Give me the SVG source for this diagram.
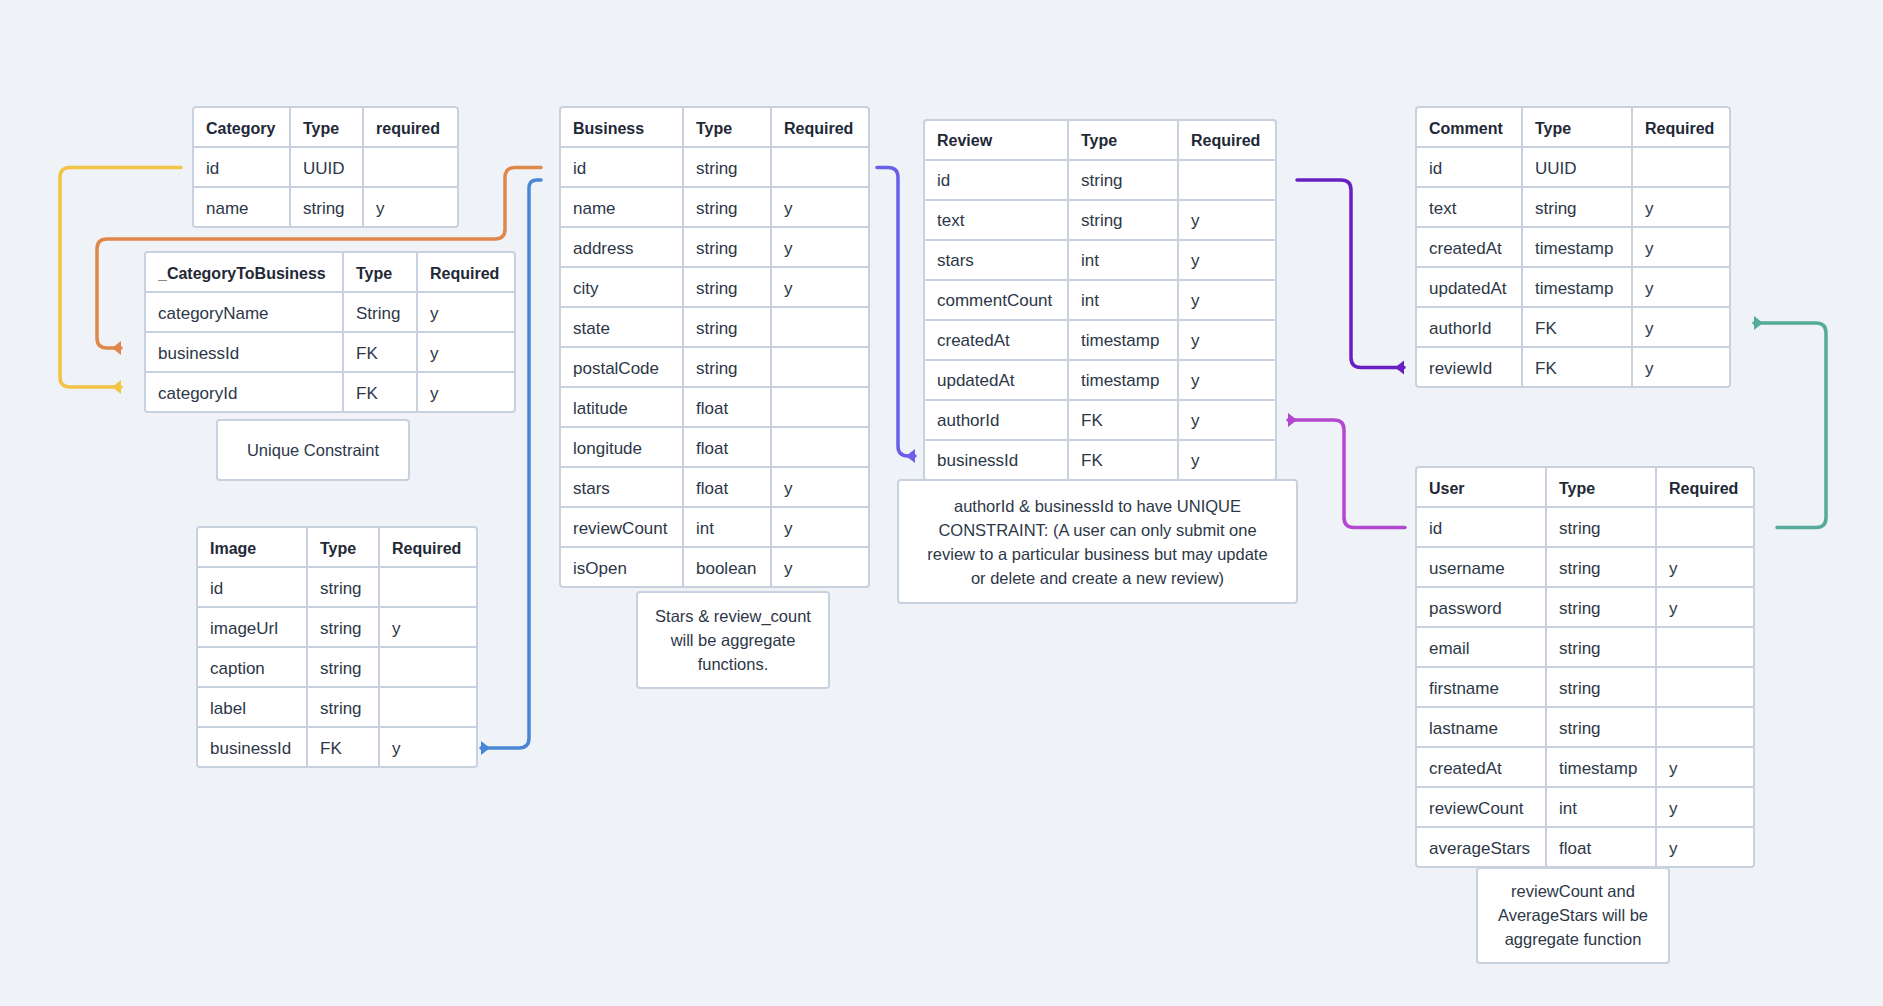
<svg xmlns="http://www.w3.org/2000/svg" width="1883" height="1006" viewBox="0 0 1883 1006">
<style>
.box{fill:#ffffff;stroke:#c8d1de;stroke-width:2}
.grid{fill:none;stroke:#c8d1de;stroke-width:2}
.h{font-family:"Liberation Sans",Arial,sans-serif;font-size:16px;font-weight:bold;fill:#1f2937}
.t{font-family:"Liberation Sans",Arial,sans-serif;font-size:17px;fill:#2d3748}
.n{font-family:"Liberation Sans",Arial,sans-serif;font-size:16.5px;fill:#2d3748;text-anchor:middle}
.c{fill:none;stroke-width:3.5;stroke-linecap:round;stroke-linejoin:round}
</style>
<defs>
<marker id="mY" markerUnits="userSpaceOnUse" markerWidth="24" markerHeight="24" viewBox="-12 -12 24 24" refX="0" refY="0" orient="auto"><path d="M0,-7 L0,7 L-9,0 Z" fill="#f1c446"/></marker>
<marker id="mO" markerUnits="userSpaceOnUse" markerWidth="24" markerHeight="24" viewBox="-12 -12 24 24" refX="0" refY="0" orient="auto"><path d="M0,-7 L0,7 L-9,0 Z" fill="#e0874b"/></marker>
<marker id="mB" markerUnits="userSpaceOnUse" markerWidth="24" markerHeight="24" viewBox="-12 -12 24 24" refX="0" refY="0" orient="auto"><path d="M0,-7 L0,7 L-9,0 Z" fill="#4a86d6"/></marker>
<marker id="mI" markerUnits="userSpaceOnUse" markerWidth="24" markerHeight="24" viewBox="-12 -12 24 24" refX="0" refY="0" orient="auto"><path d="M0,-7 L0,7 L-9,0 Z" fill="#6a5fe8"/></marker>
<marker id="mP" markerUnits="userSpaceOnUse" markerWidth="24" markerHeight="24" viewBox="-12 -12 24 24" refX="0" refY="0" orient="auto"><path d="M0,-7 L0,7 L-9,0 Z" fill="#6a1fc2"/></marker>
<marker id="mM" markerUnits="userSpaceOnUse" markerWidth="24" markerHeight="24" viewBox="-12 -12 24 24" refX="0" refY="0" orient="auto"><path d="M0,-7 L0,7 L-9,0 Z" fill="#b447cf"/></marker>
<marker id="mT" markerUnits="userSpaceOnUse" markerWidth="24" markerHeight="24" viewBox="-12 -12 24 24" refX="0" refY="0" orient="auto"><path d="M0,-7 L0,7 L-9,0 Z" fill="#55ab9a"/></marker>
</defs>
<rect x="0" y="0" width="1883" height="1006" fill="#eff3f7"/>

<g id="connectors">
<path class="c" stroke="#f1c446" marker-end="url(#mY)" d="M181,167.5 H70 Q60,167.5 60,177.5 V377 Q60,387 70,387 H121"/>
<path class="c" stroke="#e0874b" marker-end="url(#mO)" d="M541,167.5 H515 Q505,167.5 505,177.5 V229 Q505,239 495,239 H107 Q97,239 97,249 V338 Q97,348 107,348 H121"/>
<path class="c" stroke="#4a86d6" marker-end="url(#mB)" d="M541,180 H537 Q529,180 529,188 V738 Q529,748 519,748 H481"/>
<path class="c" stroke="#6a5fe8" marker-end="url(#mI)" d="M877,167.5 H888 Q898,167.5 898,177.5 V446 Q898,456 908,456 H915"/>
<path class="c" stroke="#6a1fc2" marker-end="url(#mP)" d="M1297,180 H1341 Q1351,180 1351,190 V357.5 Q1351,367.5 1361,367.5 H1404"/>
<path class="c" stroke="#b447cf" marker-end="url(#mM)" d="M1405,527.5 H1354 Q1344,527.5 1344,517.5 V430 Q1344,420 1334,420 H1288"/>
<path class="c" stroke="#55ab9a" marker-end="url(#mT)" d="M1777,527.5 H1816 Q1826,527.5 1826,517.5 V333 Q1826,323 1816,323 H1754"/>
</g>

<g id="category">
<rect class="box" x="193" y="107" width="265" height="120" rx="3"/>
<path class="grid" d="M290,107 V227 M363,107 V227 M193,147 H458 M193,187 H458"/>
<text class="h" x="206" y="134">Category</text><text class="h" x="303" y="134">Type</text><text class="h" x="376" y="134">required</text>
<text class="t" x="206" y="174">id</text><text class="t" x="303" y="174">UUID</text>
<text class="t" x="206" y="214">name</text><text class="t" x="303" y="214">string</text><text class="t" x="376" y="214">y</text>
</g>

<g id="category-to-business">
<rect class="box" x="145" y="252" width="370" height="160" rx="3"/>
<path class="grid" d="M343,252 V412 M417,252 V412 M145,292 H515 M145,332 H515 M145,372 H515"/>
<text class="h" x="158" y="279">_CategoryToBusiness</text><text class="h" x="356" y="279">Type</text><text class="h" x="430" y="279">Required</text>
<text class="t" x="158" y="319">categoryName</text><text class="t" x="356" y="319">String</text><text class="t" x="430" y="319">y</text>
<text class="t" x="158" y="359">businessId</text><text class="t" x="356" y="359">FK</text><text class="t" x="430" y="359">y</text>
<text class="t" x="158" y="399">categoryId</text><text class="t" x="356" y="399">FK</text><text class="t" x="430" y="399">y</text>
</g>

<g id="note-unique">
<rect class="box" x="217" y="420" width="192" height="60" rx="3"/>
<text class="n" x="313" y="456">Unique Constraint</text>
</g>

<g id="image">
<rect class="box" x="197" y="527" width="280" height="240" rx="3"/>
<path class="grid" d="M307,527 V767 M379,527 V767 M197,567 H477 M197,607 H477 M197,647 H477 M197,687 H477 M197,727 H477"/>
<text class="h" x="210" y="554">Image</text><text class="h" x="320" y="554">Type</text><text class="h" x="392" y="554">Required</text>
<text class="t" x="210" y="594">id</text><text class="t" x="320" y="594">string</text>
<text class="t" x="210" y="634">imageUrl</text><text class="t" x="320" y="634">string</text><text class="t" x="392" y="634">y</text>
<text class="t" x="210" y="674">caption</text><text class="t" x="320" y="674">string</text>
<text class="t" x="210" y="714">label</text><text class="t" x="320" y="714">string</text>
<text class="t" x="210" y="754">businessId</text><text class="t" x="320" y="754">FK</text><text class="t" x="392" y="754">y</text>
</g>

<g id="business">
<rect class="box" x="560" y="107" width="309" height="480" rx="3"/>
<path class="grid" d="M683,107 V587 M771,107 V587 M560,147 H869 M560,187 H869 M560,227 H869 M560,267 H869 M560,307 H869 M560,347 H869 M560,387 H869 M560,427 H869 M560,467 H869 M560,507 H869 M560,547 H869"/>
<text class="h" x="573" y="134">Business</text><text class="h" x="696" y="134">Type</text><text class="h" x="784" y="134">Required</text>
<text class="t" x="573" y="174">id</text><text class="t" x="696" y="174">string</text>
<text class="t" x="573" y="214">name</text><text class="t" x="696" y="214">string</text><text class="t" x="784" y="214">y</text>
<text class="t" x="573" y="254">address</text><text class="t" x="696" y="254">string</text><text class="t" x="784" y="254">y</text>
<text class="t" x="573" y="294">city</text><text class="t" x="696" y="294">string</text><text class="t" x="784" y="294">y</text>
<text class="t" x="573" y="334">state</text><text class="t" x="696" y="334">string</text>
<text class="t" x="573" y="374">postalCode</text><text class="t" x="696" y="374">string</text>
<text class="t" x="573" y="414">latitude</text><text class="t" x="696" y="414">float</text>
<text class="t" x="573" y="454">longitude</text><text class="t" x="696" y="454">float</text>
<text class="t" x="573" y="494">stars</text><text class="t" x="696" y="494">float</text><text class="t" x="784" y="494">y</text>
<text class="t" x="573" y="534">reviewCount</text><text class="t" x="696" y="534">int</text><text class="t" x="784" y="534">y</text>
<text class="t" x="573" y="574">isOpen</text><text class="t" x="696" y="574">boolean</text><text class="t" x="784" y="574">y</text>
</g>

<g id="note-business">
<rect class="box" x="637" y="592" width="192" height="96" rx="3"/>
<text class="n" x="733" y="622">Stars &amp; review_count</text>
<text class="n" x="733" y="646">will be aggregate</text>
<text class="n" x="733" y="670">functions.</text>
</g>

<g id="review">
<rect class="box" x="924" y="120" width="352" height="360" rx="3"/>
<path class="grid" d="M1068,120 V480 M1178,120 V480 M924,160 H1276 M924,200 H1276 M924,240 H1276 M924,280 H1276 M924,320 H1276 M924,360 H1276 M924,400 H1276 M924,440 H1276"/>
<text class="h" x="937" y="146">Review</text><text class="h" x="1081" y="146">Type</text><text class="h" x="1191" y="146">Required</text>
<text class="t" x="937" y="186">id</text><text class="t" x="1081" y="186">string</text>
<text class="t" x="937" y="226">text</text><text class="t" x="1081" y="226">string</text><text class="t" x="1191" y="226">y</text>
<text class="t" x="937" y="266">stars</text><text class="t" x="1081" y="266">int</text><text class="t" x="1191" y="266">y</text>
<text class="t" x="937" y="306">commentCount</text><text class="t" x="1081" y="306">int</text><text class="t" x="1191" y="306">y</text>
<text class="t" x="937" y="346">createdAt</text><text class="t" x="1081" y="346">timestamp</text><text class="t" x="1191" y="346">y</text>
<text class="t" x="937" y="386">updatedAt</text><text class="t" x="1081" y="386">timestamp</text><text class="t" x="1191" y="386">y</text>
<text class="t" x="937" y="426">authorId</text><text class="t" x="1081" y="426">FK</text><text class="t" x="1191" y="426">y</text>
<text class="t" x="937" y="466">businessId</text><text class="t" x="1081" y="466">FK</text><text class="t" x="1191" y="466">y</text>
</g>

<g id="note-review">
<rect class="box" x="898" y="480" width="399" height="123" rx="3"/>
<text class="n" x="1097.5" y="512">authorId &amp; businessId to have UNIQUE</text>
<text class="n" x="1097.5" y="536">CONSTRAINT: (A user can only submit one</text>
<text class="n" x="1097.5" y="560">review to a particular business but may update</text>
<text class="n" x="1097.5" y="584">or delete and create a new review)</text>
</g>

<g id="comment">
<rect class="box" x="1416" y="107" width="314" height="280" rx="3"/>
<path class="grid" d="M1522,107 V387 M1632,107 V387 M1416,147 H1730 M1416,187 H1730 M1416,227 H1730 M1416,267 H1730 M1416,307 H1730 M1416,347 H1730"/>
<text class="h" x="1429" y="134">Comment</text><text class="h" x="1535" y="134">Type</text><text class="h" x="1645" y="134">Required</text>
<text class="t" x="1429" y="174">id</text><text class="t" x="1535" y="174">UUID</text>
<text class="t" x="1429" y="214">text</text><text class="t" x="1535" y="214">string</text><text class="t" x="1645" y="214">y</text>
<text class="t" x="1429" y="254">createdAt</text><text class="t" x="1535" y="254">timestamp</text><text class="t" x="1645" y="254">y</text>
<text class="t" x="1429" y="294">updatedAt</text><text class="t" x="1535" y="294">timestamp</text><text class="t" x="1645" y="294">y</text>
<text class="t" x="1429" y="334">authorId</text><text class="t" x="1535" y="334">FK</text><text class="t" x="1645" y="334">y</text>
<text class="t" x="1429" y="374">reviewId</text><text class="t" x="1535" y="374">FK</text><text class="t" x="1645" y="374">y</text>
</g>

<g id="user">
<rect class="box" x="1416" y="467" width="338" height="400" rx="3"/>
<path class="grid" d="M1546,467 V867 M1656,467 V867 M1416,507 H1754 M1416,547 H1754 M1416,587 H1754 M1416,627 H1754 M1416,667 H1754 M1416,707 H1754 M1416,747 H1754 M1416,787 H1754 M1416,827 H1754"/>
<text class="h" x="1429" y="494">User</text><text class="h" x="1559" y="494">Type</text><text class="h" x="1669" y="494">Required</text>
<text class="t" x="1429" y="534">id</text><text class="t" x="1559" y="534">string</text>
<text class="t" x="1429" y="574">username</text><text class="t" x="1559" y="574">string</text><text class="t" x="1669" y="574">y</text>
<text class="t" x="1429" y="614">password</text><text class="t" x="1559" y="614">string</text><text class="t" x="1669" y="614">y</text>
<text class="t" x="1429" y="654">email</text><text class="t" x="1559" y="654">string</text>
<text class="t" x="1429" y="694">firstname</text><text class="t" x="1559" y="694">string</text>
<text class="t" x="1429" y="734">lastname</text><text class="t" x="1559" y="734">string</text>
<text class="t" x="1429" y="774">createdAt</text><text class="t" x="1559" y="774">timestamp</text><text class="t" x="1669" y="774">y</text>
<text class="t" x="1429" y="814">reviewCount</text><text class="t" x="1559" y="814">int</text><text class="t" x="1669" y="814">y</text>
<text class="t" x="1429" y="854">averageStars</text><text class="t" x="1559" y="854">float</text><text class="t" x="1669" y="854">y</text>
</g>

<g id="note-user">
<rect class="box" x="1477" y="868" width="192" height="95" rx="3"/>
<text class="n" x="1573" y="897">reviewCount and</text>
<text class="n" x="1573" y="921">AverageStars will be</text>
<text class="n" x="1573" y="945">aggregate function</text>
</g>
</svg>
